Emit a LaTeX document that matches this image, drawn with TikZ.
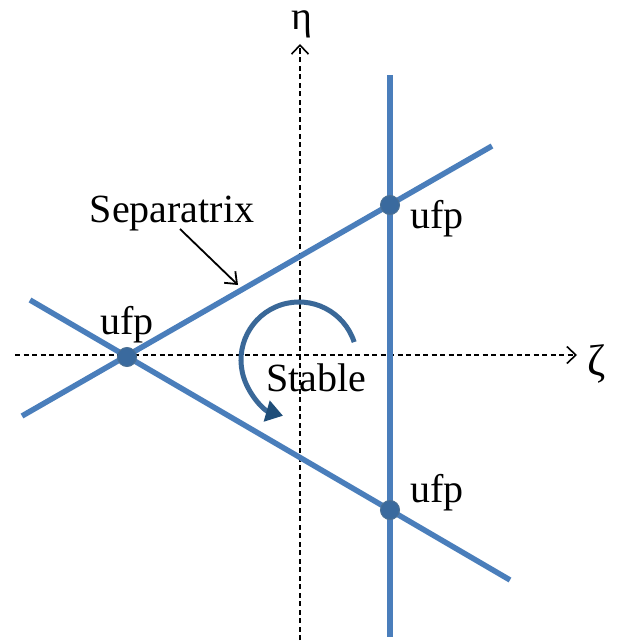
\documentclass[tikz,border=0pt]{standalone}
\usepackage{fontspec}
\setmainfont{Liberation Serif}
\usetikzlibrary{arrows.meta}
\definecolor{lineblue}{HTML}{4A7EBB}
\definecolor{arcblue}{HTML}{3A6898}
\definecolor{tipblue}{HTML}{1F4E79}
\definecolor{dotblue}{HTML}{3A6A9E}
\tikzset{
  axis/.style={black, line width=1.8pt, dash pattern=on 5pt off 3.5pt, -{Straight Barb[length=9pt,width=17pt,line width=1.6pt]}},
  sepline/.style={lineblue, line width=5.5pt},
  fp/.style={circle, fill=dotblue, draw=tipblue!80, line width=1pt, minimum size=19pt, inner sep=0pt},
  lbl/.style={font=\fontsize{40}{46}\selectfont, inner sep=0pt},
}
\begin{document}
\begin{tikzpicture}[x=1pt,y=-1pt]
\useasboundingbox (0,0) rectangle (623,642);
% axes
\coordinate (xl) at (15,355);
\coordinate (xr) at (577,355);
\coordinate (yb) at (300,640);
\coordinate (yt) at (300,44);
\draw[axis] (xl) -- (xr);
\draw[axis] (yb) -- (yt);
\node[lbl, anchor=base, font=\fontsize{44}{50}\selectfont] (zeta) at (597,375) {ζ};
\node[lbl, anchor=base, font=\fontsize{40}{46}\selectfont] (eta) at (302,30) {η};
% lines
\coordinate (u1) at (22,416);
\coordinate (u2) at (492,146);
\coordinate (l1) at (30,300);
\coordinate (l2) at (510,580);
\coordinate (v1) at (390,75);
\coordinate (v2) at (390,637);
\draw[sepline] (u1) -- (u2);
\draw[sepline] (l1) -- (l2);
\draw[sepline] (v1) -- (v2);
% fixed points
\node[fp] (p1) at (127,357) {};
\node[fp] (p2) at (390,205) {};
\node[fp] (p3) at (390,510) {};
\node[lbl, anchor=base] (t1) at (127,334) {ufp};
\node[lbl, anchor=base] (t2) at (437,228) {ufp};
\node[lbl, anchor=base] (t3) at (437,502) {ufp};
% separatrix
\node[lbl, anchor=base] (sep) at (172,222) {Separatrix};
\coordinate (ss) at (180,229);
\coordinate (sa) at (238,285);
\draw[black, line width=1.8pt, -{Straight Barb[length=10pt,width=16pt,line width=1.8pt]}] (ss) -- (sa);
% stable
\node[lbl, anchor=base] (st) at (316,391) {Stable};
\coordinate (c0) at (299,360);
\draw[arcblue, line width=5pt, -{Triangle[length=17pt,width=21pt,color=tipblue]}]
  (c0) ++(-18:58) arc[start angle=-18, end angle=-254, radius=58];
\end{tikzpicture}
\end{document}
